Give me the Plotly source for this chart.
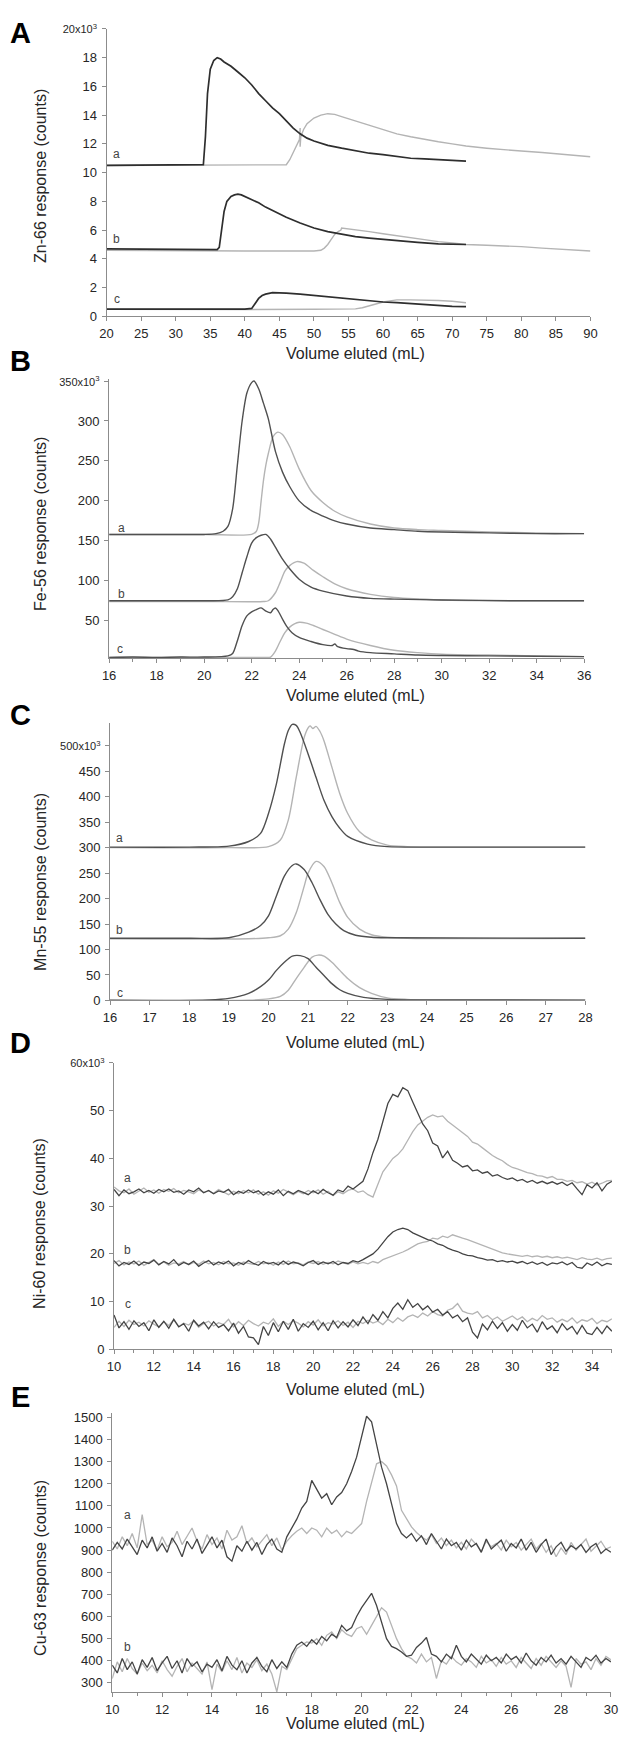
import plotly.graph_objects as go

# page is 629x1748; the browser body has an 8 px default margin, so the figure is 621x1740
PAGE_W, PAGE_H = 629, 1748
OFF = 8
FW, FH = PAGE_W - OFF, PAGE_H - OFF
DARK = "#2e2e2e"
MID = "#505050"
LIGHT = "#b4b4b4"
AXC = "#8c8c8c"
TXT = "#262626"
FONT = "Liberation Sans, Arial, sans-serif"

# ---------------- Panel A : Zn-66 (x10^3 counts) ----------------
zn_a_dark_x = [20, 25, 30, 33, 34.0, 34.3, 34.6, 35.0, 35.5, 36.0, 36.5, 37.0, 38, 39, 40, 41, 42, 43, 44, 45, 46, 47, 48, 49, 50, 52, 54, 56, 58, 60, 62, 64, 66, 68, 70, 72]
zn_a_dark_y = [10.5, 10.5, 10.5, 10.5, 10.55, 12.5, 15.5, 17.2, 17.8, 18.0, 17.9, 17.7, 17.4, 17.0, 16.6, 16.1, 15.5, 15.0, 14.5, 14.1, 13.6, 13.1, 12.7, 12.4, 12.2, 11.9, 11.7, 11.5, 11.35, 11.25, 11.1, 11.0, 10.95, 10.9, 10.85, 10.8]
zn_a_light_x = [20, 30, 40, 45, 46.0, 46.5, 47.0, 47.5, 47.9, 48.0, 48.0, 48.1, 48.5, 49, 50, 51, 52, 53, 54, 55, 56, 58, 60, 62, 64, 66, 68, 70, 72, 75, 78, 80, 83, 85, 88, 90]
zn_a_light_y = [10.5, 10.5, 10.5, 10.5, 10.55, 10.9, 11.4, 11.9, 12.3, 13.1, 11.8, 12.5, 13.0, 13.4, 13.8, 14.0, 14.1, 14.05, 13.9, 13.75, 13.6, 13.3, 13.0, 12.7, 12.5, 12.3, 12.15, 12.0, 11.85, 11.7, 11.55, 11.5, 11.4, 11.3, 11.2, 11.1]
zn_b_dark_x = [20, 30, 36.0, 36.3, 36.6, 37.0, 37.4, 38.0, 38.5, 39, 39.5, 40, 41, 42, 43, 44, 45, 46, 48, 50, 52, 54, 56, 58, 60, 62, 65, 68, 70, 72]
zn_b_dark_y = [4.7, 4.65, 4.65, 4.8, 5.8, 7.3, 8.0, 8.35, 8.45, 8.5, 8.45, 8.35, 8.15, 7.9, 7.6, 7.35, 7.1, 6.9, 6.5, 6.15, 5.9, 5.7, 5.55, 5.45, 5.35, 5.25, 5.15, 5.05, 5.0, 5.0]
zn_b_light_x = [20, 30, 40, 50, 51.0, 51.5, 52.0, 52.5, 53.0, 53.5, 53.9, 54.0, 55, 56, 57, 58, 60, 62, 64, 66, 68, 70, 72, 75, 78, 80, 83, 85, 88, 90]
zn_b_light_y = [4.6, 4.55, 4.55, 4.55, 4.6, 4.75, 5.0, 5.35, 5.7, 5.9, 6.0, 6.15, 6.1, 6.05, 6.0, 5.9, 5.75, 5.6, 5.45, 5.35, 5.2, 5.1, 5.0, 4.95, 4.9, 4.85, 4.75, 4.7, 4.6, 4.55]
zn_c_dark_x = [20, 30, 40, 41.0, 41.5, 42.0, 42.5, 43.0, 44, 45, 46, 48, 50, 52, 55, 58, 60, 62, 65, 68, 70, 72]
zn_c_dark_y = [0.5, 0.48, 0.5, 0.55, 0.9, 1.25, 1.45, 1.55, 1.65, 1.65, 1.62, 1.55, 1.45, 1.38, 1.25, 1.1, 1.0, 0.95, 0.85, 0.75, 0.7, 0.68]
zn_c_light_x = [20, 30, 40, 50, 56, 57, 58, 59, 60, 61, 62, 64, 66, 68, 70, 71, 72]
zn_c_light_y = [0.5, 0.48, 0.48, 0.5, 0.52, 0.6, 0.75, 0.9, 1.0, 1.08, 1.15, 1.15, 1.15, 1.1, 1.05, 1.0, 0.95]

# ---------------- Panel B : Fe-56 (x10^3 counts) ----------------
fe_a_dark_x = [16, 18, 20, 20.5, 20.8, 21.0, 21.2, 21.4, 21.6, 21.8, 22.0, 22.1, 22.3, 22.5, 22.7, 23.0, 23.3, 23.6, 24.0, 24.5, 25.0, 25.5, 26, 27, 28, 29, 30, 32, 34, 36]
fe_a_dark_y = [158, 158, 158, 159, 162, 168, 190, 245, 300, 335, 348, 350, 340, 322, 303, 262, 236, 218, 200, 188, 181, 175, 171, 166, 164, 162, 161, 160, 159, 159]
fe_a_light_x = [16, 20, 22.0, 22.2, 22.3, 22.4, 22.5, 22.6, 22.7, 22.9, 23.1, 23.3, 23.6, 24.0, 24.5, 25.0, 25.5, 26, 27, 28, 29, 30, 32, 34, 36]
fe_a_light_y = [158, 158, 158, 162, 173, 200, 226, 245, 259, 280, 286, 283, 268, 240, 213, 198, 187, 180, 171, 166, 164, 163, 161, 160, 159]
fe_b_dark_x = [16, 18, 20, 21.0, 21.2, 21.4, 21.6, 21.8, 22.0, 22.2, 22.4, 22.6, 22.8, 23.0, 23.3, 23.6, 24.0, 24.5, 25, 26, 27, 28, 30, 33, 36]
fe_b_dark_y = [75, 75, 75, 76, 80, 90, 110, 130, 147, 154, 157, 158, 152, 142, 127, 115, 102, 92, 87, 81, 78, 77, 76, 75, 75]
fe_b_light_x = [16, 20, 22.5, 22.7, 23.0, 23.2, 23.4, 23.6, 23.9, 24.2, 24.6, 25.0, 25.5, 26, 27, 28, 30, 33, 36]
fe_b_light_y = [74, 74, 74, 75, 85, 98, 112, 119, 124, 122, 113, 105, 96, 90, 83, 79, 76, 75, 75]
fe_c_dark_x = [16, 17, 18, 19, 20, 21.0, 21.2, 21.4, 21.6, 21.8, 22.0, 22.2, 22.4, 22.6, 22.8, 22.9, 23.0, 23.1, 23.3, 23.5, 23.7, 24.0, 24.5, 25.0, 25.4, 25.5, 25.6, 26.0, 26.3, 26.5, 27, 28, 29, 30, 32, 34, 36]
fe_c_dark_y = [4, 4.5, 4, 4.5, 4.5, 6, 9, 25, 44, 56, 61, 64, 66, 62, 60, 64, 66, 63, 52, 42, 35, 29, 24, 20, 19, 21, 18, 15, 14, 12, 10, 8.5, 7, 6.5, 6, 5.5, 5]
fe_c_light_x = [16, 20, 22.5, 22.8, 23.0, 23.2, 23.4, 23.6, 23.8, 24.0, 24.3, 24.6, 25.0, 25.5, 26, 27, 28, 29, 30, 32, 34, 36]
fe_c_light_y = [4, 4, 4, 4.5, 12, 24, 35, 42, 46, 48, 47, 44, 39, 33, 27, 19, 13, 10, 8, 7, 6, 5]

# ---------------- Panel C : Mn-55 (x10^3 counts) ----------------
mn_a_dark_x = [16, 18, 19, 19.5, 19.8, 20.0, 20.2, 20.4, 20.5, 20.6, 20.7, 20.8, 21.0, 21.2, 21.4, 21.6, 21.8, 22.0, 22.5, 23, 24, 28]
mn_a_dark_y = [301, 301, 303, 312, 328, 367, 425, 503, 530, 542, 540, 526, 484, 438, 393, 361, 338, 322, 307, 302, 301, 301]
mn_a_light_x = [16, 19, 20.0, 20.3, 20.5, 20.7, 20.9, 21.0, 21.05, 21.12, 21.2, 21.3, 21.4, 21.6, 21.8, 22.0, 22.3, 22.6, 23.0, 23.5, 24, 28]
mn_a_light_y = [300, 300, 302, 315, 354, 438, 516, 535, 539, 534, 538, 528, 510, 458, 406, 367, 331, 315, 305, 302, 301, 301]
mn_b_dark_x = [16, 18, 19, 19.5, 19.8, 20.0, 20.2, 20.4, 20.6, 20.7, 20.9, 21.1, 21.3, 21.5, 21.7, 21.9, 22.2, 22.6, 23, 28]
mn_b_dark_y = [122, 122, 123, 134, 147, 166, 205, 244, 265, 268, 257, 231, 198, 169, 150, 137, 128, 124, 123, 122]
mn_b_light_x = [16, 19.5, 20.0, 20.3, 20.5, 20.7, 20.9, 21.0, 21.2, 21.4, 21.6, 21.8, 22.0, 22.3, 22.6, 23.0, 23.5, 28]
mn_b_light_y = [121, 121, 123, 127, 140, 172, 224, 250, 273, 263, 231, 192, 163, 140, 129, 124, 122, 122]
mn_c_dark_x = [16, 18.5, 19, 19.5, 19.8, 20.0, 20.2, 20.4, 20.6, 20.8, 21.0, 21.2, 21.4, 21.6, 21.8, 22.0, 22.4, 23, 24, 28]
mn_c_dark_y = [0.5, 1, 4, 14, 27, 40, 59, 75, 87, 88, 82, 65, 49, 33, 21, 14, 6, 2, 1, 0.5]
mn_c_light_x = [16, 19.5, 20, 20.3, 20.5, 20.7, 20.9, 21.1, 21.25, 21.4, 21.6, 21.8, 22.0, 22.3, 22.6, 23.0, 23.5, 24, 28]
mn_c_light_y = [0, 0.5, 3, 8, 20, 43, 65, 85, 89, 87, 75, 59, 43, 25, 14, 5, 2, 1, 0.5]

# ---------------- Panel D : Ni-60 (x10^3 counts), read every 0.25 mL from 10 to 35 ----------------
ni_x = [round(10 + 0.25 * i, 2) for i in range(101)]
ni_a_dark = [33.5, 32.2, 33.4, 32.6, 33.0, 33.6, 32.8, 33.3, 32.7, 33.5,
             33.0, 33.6, 32.9, 33.2, 32.5, 33.4, 33.0, 33.8, 32.8, 33.3,
             32.6, 33.2, 32.9, 33.5, 32.4, 33.1, 32.7, 33.4, 32.8, 33.2,
             32.3, 33.0, 32.5, 33.4, 32.2, 33.1, 32.6, 33.3, 32.9, 32.4,
             33.2, 32.6, 33.5, 32.8, 32.3, 33.4, 33.0, 34.2, 33.6, 34.5,
             35.2, 37.8, 41.2, 44.0, 47.5, 51.5, 53.4, 52.9, 54.8, 54.2,
             51.8, 49.6, 47.2, 45.8, 43.2, 42.6, 40.1, 41.5, 39.6, 39.0,
             38.2, 38.5, 37.4, 37.6, 36.9, 37.2, 36.3, 36.6, 36.0, 35.6,
             35.9, 35.3, 35.6, 35.0, 35.4, 34.8, 35.2, 34.7, 35.1, 34.6,
             35.0, 34.3, 34.9, 33.6, 32.4, 34.5, 33.8, 34.9, 33.2, 34.6,
             35.2]
ni_a_light = [34.0, 33.2, 32.8, 33.6, 32.5, 33.2, 33.8, 32.9, 33.4, 32.7,
              33.5, 33.1, 33.7, 32.8, 33.3, 33.0, 32.6, 33.4, 32.9, 33.2,
              32.7, 33.5, 33.0, 32.4, 33.1, 32.6, 33.3, 32.8, 33.4, 32.5,
              33.0, 32.3, 33.2, 32.7, 33.5, 32.9, 32.4, 33.1, 32.6, 33.3,
              32.8, 33.4, 32.5, 33.1, 32.2, 33.0, 32.6, 33.3, 33.6, 32.9,
              33.2, 32.4, 31.9, 34.6, 37.2, 38.6, 40.0, 40.8, 42.0, 43.8,
              45.6, 47.0, 47.9, 48.6, 49.1, 48.7, 48.9, 47.8, 47.0, 46.2,
              45.3, 44.6, 43.4, 43.0, 42.2, 41.3, 40.6, 40.0, 39.5, 38.7,
              38.1, 37.8, 37.4, 37.0, 36.8, 36.4, 36.3, 35.9, 36.2, 35.6,
              35.6, 35.2, 35.4, 34.9, 35.1, 34.6, 35.0, 34.4, 34.8, 35.3,
              35.4]
ni_b_dark = [18.6, 17.5, 18.2, 17.8, 18.5, 17.6, 18.3, 18.0, 18.7, 17.7,
             18.4, 17.9, 18.8, 17.6, 18.2, 17.8, 18.5, 17.4, 18.1, 18.6,
             17.7, 18.3, 17.9, 18.5, 17.5, 18.2, 17.8, 18.6, 18.0, 17.6,
             18.4, 17.9, 18.2, 17.7, 18.5, 17.8, 18.3, 18.0, 17.5, 18.2,
             18.6, 17.8, 18.3, 17.9, 18.4, 17.7, 18.2, 18.0, 18.6, 18.3,
             18.8, 19.4, 20.0, 21.0, 22.4, 23.6, 24.6, 25.1, 25.4, 25.1,
             24.4, 23.9, 23.5, 23.0, 22.7, 22.1, 21.8, 21.2, 20.8, 20.5,
             20.0, 19.7, 19.6, 19.2, 19.0, 18.7, 18.8, 18.4, 18.6, 18.3,
             18.5, 18.1, 18.4, 17.9, 18.3, 17.8, 18.2, 17.6, 18.1, 17.9,
             18.3, 17.7, 18.2, 17.2, 17.0, 18.1, 17.6, 18.3, 17.5, 18.0,
             17.8]
ni_b_light = [18.0, 18.6, 17.7, 18.3, 17.9, 18.5, 17.6, 18.2, 18.8, 17.8,
              18.3, 17.6, 18.1, 17.9, 18.4, 17.7, 18.2, 17.8, 18.5, 17.9,
              18.2, 17.7, 18.4, 17.9, 18.1, 17.6, 18.3, 18.0, 17.8, 18.4,
              17.9, 18.2, 17.6, 18.3, 17.8, 18.5, 17.9, 18.1, 17.7, 18.3,
              18.0, 18.4, 17.8, 18.2, 17.9, 18.5, 18.1, 17.8, 18.3, 17.9,
              18.2, 17.9, 18.4, 18.1, 18.8, 19.2, 19.5, 19.9, 20.4, 20.9,
              21.5, 22.1, 22.4, 22.6, 23.3, 23.1, 23.7, 23.4, 24.0, 23.6,
              23.3, 23.0, 22.6, 22.2, 21.7, 21.3, 20.9, 20.6, 20.2, 20.0,
              19.8, 19.6, 19.5, 19.7, 19.4, 19.6, 19.3, 19.5, 19.2, 19.4,
              19.1, 19.3, 19.0, 18.8, 19.2, 18.9, 18.8, 19.1, 18.7, 19.0,
              19.1]
ni_c_dark = [7.2, 4.5, 5.8, 4.2, 6.0, 4.8, 5.6, 3.9, 6.2, 4.6,
             5.9, 4.4, 6.3, 4.7, 5.4, 3.8, 6.1, 4.9, 5.7, 4.3,
             5.8, 4.6, 5.2, 3.9, 5.5, 3.4, 4.8, 2.6, 2.4, 1.0,
             4.8, 2.9, 5.6, 3.7, 5.9, 4.2, 6.3, 3.8, 5.4, 4.6,
             5.9, 4.1, 5.6, 3.9, 6.0, 4.5, 5.8, 4.7, 6.2, 5.0,
             6.8, 5.4, 7.3, 6.1, 7.9, 6.6, 8.6, 9.7, 8.4, 10.4,
             8.8, 9.6, 8.3, 9.1, 7.8, 8.4, 7.2, 7.9, 6.6, 7.2,
             5.8, 6.6, 3.6, 2.4, 5.3, 4.1, 5.9, 4.4, 5.6, 3.8,
             5.2, 4.0, 6.1, 4.5, 5.3, 3.6, 5.8, 4.2, 4.9, 3.5,
             5.4, 4.1, 4.8, 3.2, 5.0, 3.4, 3.1, 4.6, 3.3, 4.9,
             3.8]
ni_c_light = [4.6, 5.9, 4.8, 6.1, 5.2, 5.7, 4.9, 6.0, 5.3, 4.7,
              5.8, 5.0, 6.2, 4.8, 5.5, 5.1, 6.0, 4.6, 5.4, 5.9,
              4.9, 5.6, 5.2, 6.3, 4.7, 5.8, 5.0, 6.1, 5.4, 4.9,
              5.7, 5.3, 6.4, 4.8, 5.9, 5.2, 6.0, 5.5, 4.7, 5.8,
              5.1, 6.2, 4.9, 5.6, 5.3, 6.0, 5.0, 5.7, 4.6, 5.9,
              5.4, 6.1, 5.5, 5.9, 5.2, 6.3, 5.6, 6.6, 5.9, 6.8,
              7.2, 6.7, 7.6, 7.0, 7.9, 7.3, 7.0, 8.2, 8.6, 9.6,
              8.0, 7.6, 7.4, 7.9, 6.6, 7.1, 6.2, 6.8, 5.9, 6.5,
              7.0, 6.2, 6.8, 5.8, 6.5, 6.0, 7.1, 6.3, 6.6, 5.7,
              6.3, 5.8, 6.6, 5.5, 6.2, 5.9, 6.5, 5.4, 6.1, 5.8,
              6.4]

# ---------------- Panel E : Cu-63 (counts), read every 0.2 mL from 10 to 30 ----------------
cu_x = [round(10 + 0.2 * i, 2) for i in range(101)]
cu_a_dark = [900, 935, 905, 950, 915, 880, 945, 910, 960, 895,
             930, 890, 955, 920, 870, 940, 905, 950, 885, 925,
             960, 910, 945, 870, 850, 920, 895, 940, 900, 935,
             880, 925, 950, 905, 890, 960, 1000, 1040, 1090, 1120,
             1215, 1175, 1135, 1155, 1105, 1140, 1160, 1200, 1255, 1320,
             1420, 1505, 1480, 1380, 1275, 1200, 1110, 1020, 975, 955,
             975, 940, 965, 925, 975, 940, 905, 950, 920, 935,
             900, 945, 915, 930, 890, 950, 905, 925, 945, 895,
             930, 910, 950, 900, 935, 890, 925, 950, 880, 915,
             935, 895, 920, 905, 925, 890, 915, 930, 885, 905,
             890]
cu_a_light = [940, 905, 960, 920, 975, 910, 1060, 925, 945, 900,
              960, 915, 935, 985, 925, 960, 1000, 940, 905, 970,
              925, 955, 905, 990, 945, 960, 1010, 930, 955, 915,
              945, 970, 920, 955, 900, 940, 965, 985, 1000, 975,
              1000, 990, 960, 1000, 975, 990, 960, 985, 975, 1000,
              1020, 1120, 1200, 1290, 1300, 1280, 1240, 1190, 1080, 1045,
              1005, 980, 960, 945, 970, 930, 955, 920, 945, 910,
              935, 905, 950, 925, 895, 940, 915, 930, 900, 945,
              915, 935, 900, 925, 950, 905, 930, 890, 920, 870,
              910, 880, 935, 900, 925, 950, 895, 920, 940, 905,
              915]
cu_b_dark = [380, 345, 410, 360, 395, 340, 405, 370, 415, 355,
             390, 420, 365, 400, 345, 410, 375, 395, 350, 385,
             370, 405, 355, 420, 380, 360, 400, 345, 390, 415,
             375, 350, 405, 365, 395, 370, 430, 470, 485, 465,
             495, 475, 510, 490, 520, 505, 560, 535, 550, 600,
             640, 670, 705, 650, 575, 500, 465, 455, 440, 420,
             425, 460, 480, 505, 430, 420, 395, 430, 410, 470,
             420, 395, 430, 405, 385, 425, 400, 415, 390, 430,
             405, 420, 390, 435, 400, 380, 415, 395, 425, 390,
             410, 385, 420, 395, 370, 415, 400, 425, 390, 410,
             395]
cu_b_light = [320, 395, 350, 410, 365, 340, 390, 355, 380, 345,
              400, 360, 330, 375, 410, 350, 390, 365, 340, 395,
              270, 385, 350, 400, 360, 415, 345, 390, 370, 405,
              355, 385, 340, 260, 375, 360, 410, 455, 470, 485,
              480, 500, 470, 515, 530, 500, 540, 520, 510, 545,
              555, 520, 560, 600, 640, 620, 560, 500, 455, 420,
              410, 390, 430, 395, 415, 320, 400, 385, 420, 395,
              380, 410, 395, 370, 420, 390, 405, 375, 415, 385,
              400, 370, 415, 390, 365, 410, 380, 420, 395, 370,
              400, 375, 280, 410, 385, 395, 360, 410, 380, 420,
              405]


# ---------------- layout geometry (page pixels, converted to figure paper coords) ----------------
def px(x):
    return (x - OFF) / FW


def py(y):
    return 1 - (y - OFF) / FH


panels = [
    dict(xd=(101.7, 596.7), yd=(312, 22), xr=[20, 90], yr=[0, 20]),
    dict(xd=(104.3, 590.3), yd=(656.7, 375.6), xr=[16, 36], yr=[3.2, 352]),
    dict(xd=(105.2, 591.6), yd=(1002, 722), xr=[16, 28], yr=[0, 545]),
    dict(xd=(109.3, 618.7), yd=(1354, 1065), xr=[10, 35], yr=[0, 60]),
    dict(xd=(107.5, 617.7), yd=(1700, 1418.3), xr=[10, 30], yr=[257, 1519]),
]

fig = go.Figure()


def add(i, x, y, color, width, shape="linear"):
    line = dict(color=color, width=width, shape=shape)
    if shape == "spline":
        line["smoothing"] = 0.8
    fig.add_trace(go.Scatter(
        x=x, y=y, mode="lines", line=line,
        xaxis="x" if i == 1 else f"x{i}", yaxis="y" if i == 1 else f"y{i}",
        showlegend=False, hoverinfo="skip"))


# A
add(1, zn_a_light_x, zn_a_light_y, LIGHT, 1.4)
add(1, zn_b_light_x, zn_b_light_y, LIGHT, 1.4)
add(1, zn_c_light_x, zn_c_light_y, LIGHT, 1.4)
add(1, zn_a_dark_x, zn_a_dark_y, DARK, 1.7)
add(1, zn_b_dark_x, zn_b_dark_y, DARK, 1.7)
add(1, zn_c_dark_x, zn_c_dark_y, DARK, 1.7)
# B
add(2, fe_a_light_x, fe_a_light_y, LIGHT, 1.4, "spline")
add(2, fe_b_light_x, fe_b_light_y, LIGHT, 1.4, "spline")
add(2, fe_c_light_x, fe_c_light_y, LIGHT, 1.4, "spline")
add(2, fe_a_dark_x, fe_a_dark_y, MID, 1.4, "spline")
add(2, fe_b_dark_x, fe_b_dark_y, MID, 1.4, "spline")
add(2, fe_c_dark_x, fe_c_dark_y, MID, 1.4, "spline")
# C
add(3, mn_a_light_x, mn_a_light_y, LIGHT, 1.4, "spline")
add(3, mn_b_light_x, mn_b_light_y, LIGHT, 1.4, "spline")
add(3, mn_c_light_x, mn_c_light_y, LIGHT, 1.4, "spline")
add(3, mn_a_dark_x, mn_a_dark_y, MID, 1.4, "spline")
add(3, mn_b_dark_x, mn_b_dark_y, MID, 1.4, "spline")
add(3, mn_c_dark_x, mn_c_dark_y, MID, 1.4, "spline")
# D
add(4, ni_x, ni_a_light, LIGHT, 1.3)
add(4, ni_x, ni_b_light, LIGHT, 1.3)
add(4, ni_x, ni_c_light, LIGHT, 1.3)
add(4, ni_x, ni_a_dark, "#444444", 1.3)
add(4, ni_x, ni_b_dark, "#444444", 1.3)
add(4, ni_x, ni_c_dark, "#444444", 1.3)
# E
add(5, cu_x, cu_a_light, LIGHT, 1.3)
add(5, cu_x, cu_b_light, LIGHT, 1.3)
add(5, cu_x, cu_a_dark, "#444444", 1.3)
add(5, cu_x, cu_b_dark, "#444444", 1.3)

small = "<span style='font-size:11px'>%s</span>"
ytick_sets = [
    ([0, 2, 4, 6, 8, 10, 12, 14, 16, 18, 20],
     ["0", "2", "4", "6", "8", "10", "12", "14", "16", "18", small % "20x10<sup>3</sup>"]),
    ([50, 100, 150, 200, 250, 300, 350],
     ["50", "100", "150", "200", "250", "300", small % "350x10<sup>3</sup>"]),
    ([0, 50, 100, 150, 200, 250, 300, 350, 400, 450, 500],
     ["0", "50", "100", "150", "200", "250", "300", "350", "400", "450", small % "500x10<sup>3</sup>"]),
    ([0, 10, 20, 30, 40, 50, 60],
     ["0", "10", "20", "30", "40", "50", small % "60x10<sup>3</sup>"]),
    ([300, 400, 500, 600, 700, 800, 900, 1000, 1100, 1200, 1300, 1400, 1500],
     ["300", "400", "500", "600", "700", "800", "900", "1000", "1100", "1200", "1300", "1400", "1500"]),
]
xdticks = [5, 2, 1, 2, 2]
xminor = [None, 1, None, 1, 1]

tickfont = dict(family=FONT, size=13, color=TXT)
layout = {}
for k, p in enumerate(panels):
    i = k + 1
    xa = dict(domain=[px(p["xd"][0]), px(p["xd"][1])], range=p["xr"], anchor="y" if i == 1 else f"y{i}",
              showline=True, linecolor=AXC, linewidth=1, ticks="outside", ticklen=4, tickcolor=AXC,
              tickwidth=1, dtick=xdticks[k], tick0=0, showgrid=False, zeroline=False,
              tickfont=tickfont, ticklabelstandoff=1, fixedrange=True)
    if xminor[k]:
        xa["minor"] = dict(ticks="outside", ticklen=2.5, dtick=xminor[k], tick0=0, tickcolor=AXC, showgrid=False)
    ya = dict(domain=[py(p["yd"][0]), py(p["yd"][1])], range=p["yr"], anchor="x" if i == 1 else f"x{i}",
              showline=True, linecolor=AXC, linewidth=1, ticks="outside", ticklen=4, tickcolor=AXC,
              tickwidth=1, tickvals=ytick_sets[k][0], ticktext=ytick_sets[k][1], showgrid=False,
              zeroline=False, tickfont=tickfont, ticklabelstandoff=2, fixedrange=True)
    layout["xaxis" if i == 1 else f"xaxis{i}"] = xa
    layout["yaxis" if i == 1 else f"yaxis{i}"] = ya

annotations = []
# panel letters (A sits at the very top of the page)
annotations.append(dict(text="<b>A</b>", x=px(14), y=1.0, xref="paper", yref="paper",
                        showarrow=False, xanchor="center", yanchor="top",
                        font=dict(family=FONT, size=29, color="#000")))
for letter, yc in zip("BCDE", [357, 714, 1045, 1402]):
    annotations.append(dict(text=f"<b>{letter}</b>", x=px(14), y=py(yc), xref="paper", yref="paper",
                            showarrow=False, xanchor="center", yanchor="middle",
                            font=dict(family=FONT, size=29, color="#000")))
ytitles = ["Zn-66 response (counts)", "Fe-56 response (counts)", "Mn-55 response (counts)",
           "Ni-60 response (counts)", "Cu-63 response (counts)"]
ytitle_pos = [(34, 170), (34, 521), (34, 882), (33, 1227), (34, 1574)]
for t, (xc, yc) in zip(ytitles, ytitle_pos):
    annotations.append(dict(text=t, x=px(xc), y=py(yc), xref="paper", yref="paper", textangle=-90,
                            showarrow=False, xanchor="center", yanchor="middle",
                            font=dict(family=FONT, size=16, color=TXT)))
for yc in [349, 694, 1044, 1394, 1731]:
    annotations.append(dict(text="Volume eluted (mL)", x=px(356), y=py(yc), xref="paper", yref="paper",
                            showarrow=False, xanchor="center", yanchor="middle",
                            font=dict(family=FONT, size=16, color=TXT)))
trace_labels = [
    (1, [("a", 21.5, 11.3), ("b", 21.5, 5.4), ("c", 21.55, 1.2)]),
    (2, [("a", 16.5, 166), ("b", 16.5, 84), ("c", 16.45, 14)]),
    (3, [("a", 16.25, 318), ("b", 16.25, 138), ("c", 16.25, 14)]),
    (4, [("a", 10.7, 35.8), ("b", 10.7, 20.8), ("c", 10.7, 9.5)]),
    (5, [("a", 10.6, 1057), ("b", 10.6, 460)]),
]
for i, labs in trace_labels:
    for t, xv, yv in labs:
        annotations.append(dict(text=t, x=xv, y=yv, xref="x" if i == 1 else f"x{i}",
                                yref="y" if i == 1 else f"y{i}", showarrow=False,
                                xanchor="center", yanchor="middle",
                                font=dict(family=FONT, size=12, color="#444")))

fig.update_layout(width=FW, height=FH, margin=dict(l=0, r=0, t=0, b=0),
                  paper_bgcolor="white", plot_bgcolor="white", annotations=annotations, **layout)

fig.write_html("out.html")
